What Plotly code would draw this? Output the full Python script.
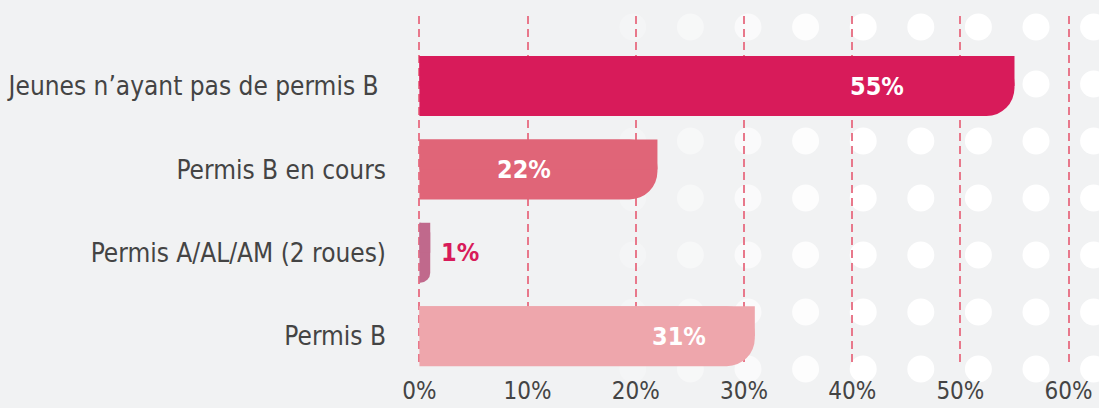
import plotly.graph_objects as go

categories = ["Jeunes n’ayant pas de permis B\u00a0", "Permis B en cours", "Permis A/AL/AM (2 roues)", "Permis B"]
values = [55, 22, 1, 31]
labels = ["55%", "22%", "1%", "31%"]
colors = ["#d81b5a", "#e06578", "#c0698c", "#eea6ac"]
label_colors = ["#ffffff", "#ffffff", "#d81b5a", "#ffffff"]
label_inside = [True, True, False, True]
label_shift = [-108, -104, 9, -47]

x_ticks = [0, 10, 20, 30, 40, 50, 60]
x_tick_text = [f"{t}%" for t in x_ticks]

FONT = "DejaVu Sans Condensed, Roboto, sans-serif"
BG = "#f1f2f3"
GRID = "#e8788b"

fig = go.Figure()

# main bars with rounded end corners
fig.add_trace(go.Bar(
    y=categories, x=values, orientation="h",
    marker=dict(color=colors, cornerradius=28, line=dict(width=0)),
    width=0.72, hoverinfo="skip", showlegend=False,
))
# upper half overlay to keep the top-right corner square
fig.add_trace(go.Bar(
    y=categories, x=values, orientation="h",
    marker=dict(color=colors, line=dict(width=0)),
    width=0.36, offset=-0.36, hoverinfo="skip", showlegend=False,
))

for cat, v, lab, col, inside, sh in zip(categories, values, labels, label_colors, label_inside, label_shift):
    fig.add_annotation(
        x=v, y=cat, xref="x", yref="y", text=lab, showarrow=False,
        xanchor="right" if inside else "left", xshift=sh,
        font=dict(family=FONT, size=25, color=col, weight="bold"),
    )

# decorative dot pattern in the background (paper coords)
L, R, T, B = 414, 25, 16, 41
PW, PH = 1099 - L - R, 408 - T - B
shapes = []
col_x = [460 + 57.6 * k for k in range(12)]
row_y = [27 + 57 * k for k in range(7)]
for cx in col_x:
    op = max(0.0, min(1.0, (cx - 560) / 300))
    if op <= 0:
        continue
    for cy in row_y:
        shapes.append(dict(
            type="circle", xref="paper", yref="paper", layer="below",
            x0=(cx - 13.5 - L) / PW, x1=(cx + 13.5 - L) / PW,
            y0=(408 - B - cy - 13.5) / PH, y1=(408 - B - cy + 13.5) / PH,
            fillcolor=f"rgba(255,255,255,{op:.2f})", line=dict(width=0),
        ))

fig.update_layout(
    width=1099, height=408,
    margin=dict(l=L, r=R, t=T, b=B),
    paper_bgcolor=BG, plot_bgcolor="rgba(0,0,0,0)",
    barmode="overlay",
    font=dict(family=FONT, color="#444444"),
    shapes=shapes,
    xaxis=dict(
        range=[-0.5, 60.5], tickvals=x_ticks, ticktext=x_tick_text,
        showgrid=True, gridcolor=GRID, gridwidth=2, griddash="8px,5px",
        zeroline=False, showline=False, automargin=False,
        ticks="outside", ticklen=2, tickcolor="rgba(0,0,0,0)",
        tickfont=dict(family=FONT, size=24, color="#444444", weight=300),
        fixedrange=True,
    ),
    yaxis=dict(
        categoryorder="array", categoryarray=categories,
        range=[3.37, -0.84], showgrid=False, zeroline=False, showline=False,
        ticks="", ticklabelstandoff=27, automargin=False,
        tickfont=dict(family=FONT, size=26, color="#444444", weight=300),
        fixedrange=True,
    ),
)

fig.write_html("out.html", config={"displayModeBar": False},
               post_script="document.body.style.margin='0px';document.body.style.overflow='hidden';")
